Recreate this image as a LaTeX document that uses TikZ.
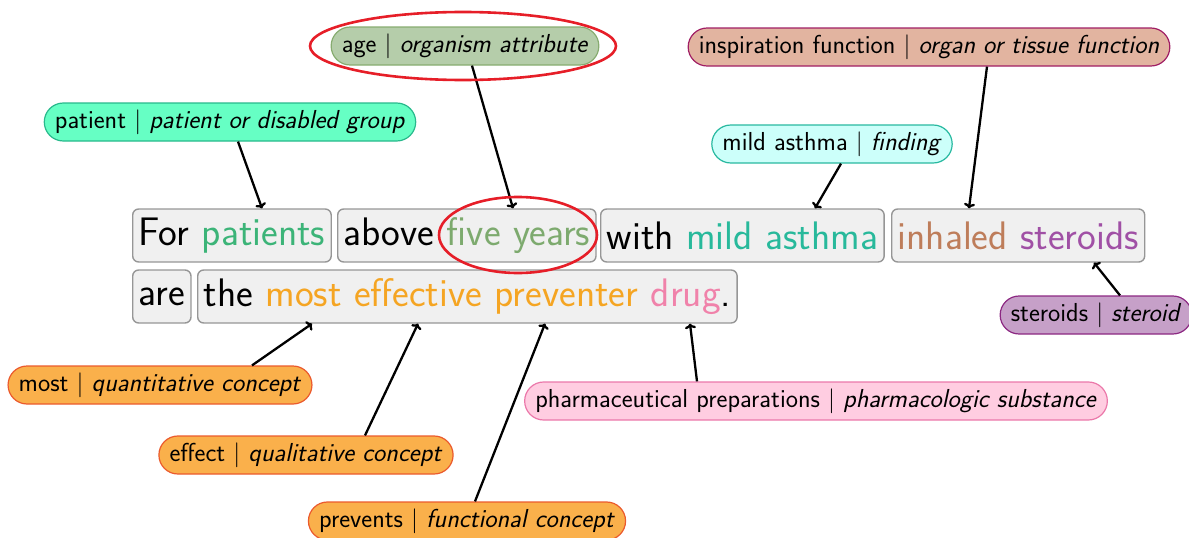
\documentclass[tikz,border=0pt]{standalone}
\usepackage{fontspec}
\usetikzlibrary{shapes.misc,arrows.meta}
\definecolor{boxfill}{RGB}{240,240,240}
\definecolor{boxline}{RGB}{150,150,150}
\definecolor{wpat}{RGB}{60,180,120}
\definecolor{wage}{RGB}{125,170,110}
\definecolor{wmild}{RGB}{40,185,155}
\definecolor{winh}{RGB}{190,125,90}
\definecolor{wster}{RGB}{160,80,165}
\definecolor{wmost}{RGB}{245,165,35}
\definecolor{wdrug}{RGB}{240,130,170}
\definecolor{hred}{RGB}{230,30,40}
\tikzset{
  chunk/.style={draw=boxline, fill=boxfill, line width=1.4pt, rounded corners=6pt,
    minimum height=53pt, inner xsep=6pt, inner ysep=0pt, anchor=west,
    font=\sffamily\fontsize{39.8}{42}\selectfont},
  tag/.style={rounded rectangle, line width=1.2pt, minimum height=38pt, inner xsep=6pt,
    inner ysep=0pt, font=\sffamily\fontsize{26}{28}\selectfont},
  tagage/.style={tag, fill={rgb,255:red,181;green,205;blue,170}, draw={rgb,255:red,135;green,172;blue,112}},
  tagpat/.style={tag, fill={rgb,255:red,102;green,255;blue,196}, draw={rgb,255:red,40;green,185;blue,140}},
  tagmild/.style={tag, fill={rgb,255:red,204;green,255;blue,250}, draw={rgb,255:red,40;green,185;blue,160}},
  taginsp/.style={tag, fill={rgb,255:red,226;green,180;blue,160}, draw={rgb,255:red,160;green,30;blue,100}},
  tagster/.style={tag, fill={rgb,255:red,198;green,160;blue,200}, draw={rgb,255:red,140;green,40;blue,130}},
  tagconc/.style={tag, fill={rgb,255:red,250;green,176;blue,75}, draw={rgb,255:red,235;green,90;blue,45}},
  tagpharm/.style={tag, fill={rgb,255:red,255;green,205;blue,225}, draw={rgb,255:red,235;green,120;blue,170}},
  link/.style={-{To[length=5pt,width=11pt]}, line width=2.3pt, black},
  mark ring/.style={draw=hred, line width=2.6pt}
}
\newcommand{\sep}{\ $|$\ }
\begin{document}
\begin{tikzpicture}[x=1pt,y=-1pt]
\useasboundingbox (0,0) rectangle (1189,538);

% sentence chunks
\node[chunk] (c1) at (132,235.5) {For \textcolor{wpat}{patients}};
\node[chunk] (c2) at (337,235.5) {above \textcolor{wage}{five years}};
\node[chunk] (c3) at (600,235.5) {with \textcolor{wmild}{mild asthma}};
\node[chunk] (c4) at (891,235.5) {\textcolor{winh}{inhaled} \textcolor{wster}{steroids}};
\node[chunk] (c5) at (132,296.5) {are};
\node[chunk] (c6) at (197,296.5) {the \textcolor{wmost}{most effective preventer} \textcolor{wdrug}{drug}.};

% concept tags
\node[tagage]   (lage)   at (465,46)  {age\sep\textit{organism attribute}};
\node[tagpat]   (lpat)   at (230,122) {patient\sep\textit{patient or disabled group}};
\node[tagmild]  (lmild)  at (832,144) {mild asthma\sep\textit{finding}};
\node[taginsp]  (linsp)  at (929,47)  {inspiration function\sep\textit{organ or tissue function}};
\node[tagster]  (lster)  at (1096,315) {steroids\sep\textit{steroid}};
\node[tagconc]  (lmost)  at (160,385) {most\sep\textit{quantitative concept}};
\node[tagconc]  (leff)   at (306,455) {effect\sep\textit{qualitative concept}};
\node[tagconc]  (lprev)  at (467,521) {prevents\sep\textit{functional concept}};
\node[tagpharm] (lpharm) at (816,401) {pharmaceutical preparations\sep\textit{pharmacologic substance}};

% links from tags to words
\draw[link] ([xshift=8pt]lpat.south)   -- ([xshift=130pt]c1.north west);
\draw[link] ([xshift=7pt]lage.south)   -- ([xshift=176pt]c2.north west);
\draw[link] ([xshift=9pt]lmild.south)  -- ([xshift=215pt]c3.north west);
\draw[link] ([xshift=58pt]linsp.south) -- ([xshift=78pt]c4.north west);
\draw[link] ([xshift=24pt]lster.north) -- ([xshift=203pt]c4.south west);
\draw[link] ([xshift=92pt]lmost.north) -- ([xshift=115pt]c6.south west);
\draw[link] ([xshift=59pt]leff.north)  -- ([xshift=221pt]c6.south west);
\draw[link] ([xshift=8pt]lprev.north)  -- ([xshift=348pt]c6.south west);
\draw[link] ([xshift=-119pt]lpharm.north) -- ([xshift=493pt]c6.south west);

% highlight rings
\draw[mark ring] (463,46) ellipse [x radius=153, y radius=34];
\draw[mark ring] (518,235) ellipse [x radius=79, y radius=38];
\end{tikzpicture}
\end{document}
